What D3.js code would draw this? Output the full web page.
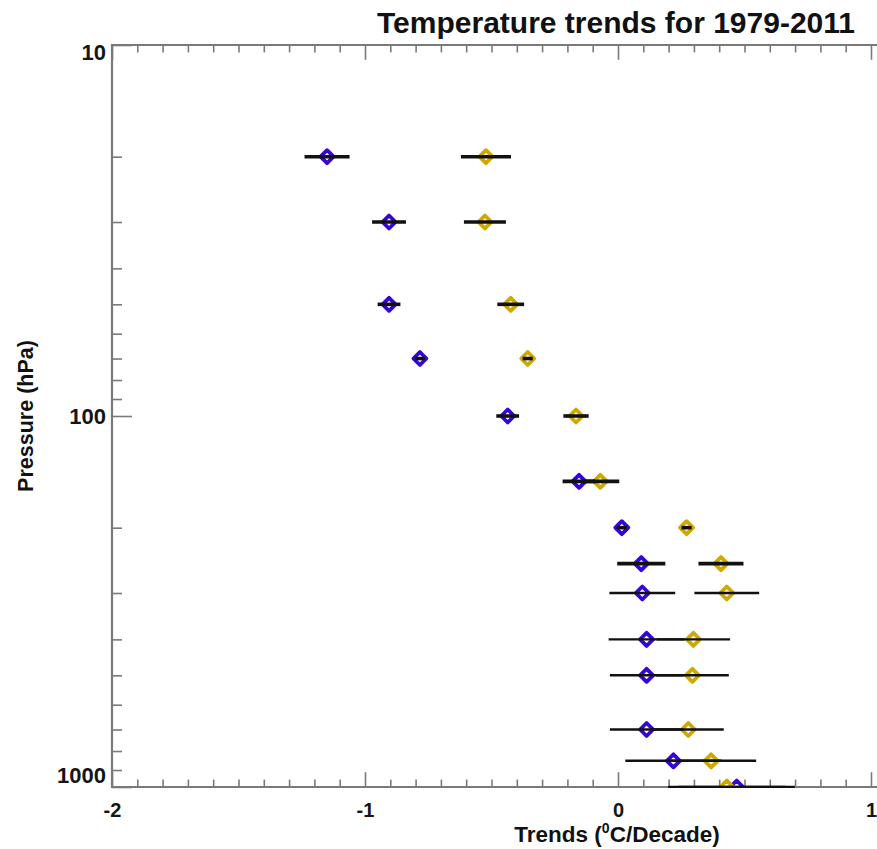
<!DOCTYPE html>
<html>
<head>
<meta charset="utf-8">
<script src="https://cdn.jsdelivr.net/npm/d3@7"></script>
<style>
  html, body { margin: 0; padding: 0; background: #fff; }
  svg { display: block; font-family: "Liberation Sans", Arial, sans-serif; }
</style>
</head>
<body>
<svg id="chart" width="877" height="849"></svg>
<script>
// ---- data ----
const pressureLevels = [20, 30, 50, 70, 100, 150, 200, 250, 300, 400, 500, 700, 850, 1000];
const blueTrend = [-1.150, -0.905, -0.905, -0.783, -0.436, -0.154, 0.015, 0.092, 0.096, 0.113, 0.113, 0.113, 0.219, 0.469];
const blueErr   = [0.089, 0.067, 0.045, 0.020, 0.045, 0.065, 0.020, 0.095, 0.130, 0.150, 0.145, 0.145, 0.190, 0.230];
const goldTrend = [-0.522, -0.526, -0.424, -0.357, -0.166, -0.070, 0.271, 0.407, 0.430, 0.298, 0.294, 0.278, 0.368, 0.430];
const goldErr   = [0.099, 0.083, 0.053, 0.020, 0.050, 0.075, 0.020, 0.089, 0.128, 0.145, 0.144, 0.140, 0.178, 0.232];
const xTickValues = [-2, -1, 0, 1, 2];
const yTickValues = [10, 100, 1000];
const titleText = "Temperature trends for 1979-2011";
const xTitle = "Trends (";
const yTitle = "Pressure (hPa)";

(function () {
// ---- layout ----
const pL = 112, pR = 1124, pT = 45, pB = 787;
const svg = d3.select("#chart");

const x = d3.scaleLinear().domain([-2, 2]).range([pL, pR]);
const y = d3.scaleLog().domain([10, 1000]).range([pT, pB]);

const axisColor = "#7a7a7a";
const majX = 14.8, minX = 7.4, majY = 20, minY = 10;

svg.append("defs").append("clipPath").attr("id", "plotclip")
  .append("rect").attr("x", pL).attr("y", pT).attr("width", pR - pL).attr("height", pB - pT + 1);

// ---- axes ----
const xMinor = d3.range(-20, 21).map(v => v / 10).filter(v => !xTickValues.includes(v));
const yMinor = [20, 30, 40, 50, 60, 70, 80, 90, 200, 300, 400, 500, 600, 700, 800, 900];

function styleAxis(g) {
  g.select(".domain").remove();
  g.selectAll(".tick line").attr("stroke", axisColor).attr("stroke-width", 1.6);
}

// bottom
svg.append("g").attr("transform", `translate(0,${pB})`)
  .call(d3.axisBottom(x).tickValues(xMinor).tickSize(-minX).tickFormat(""))
  .call(styleAxis);
const xb = svg.append("g").attr("transform", `translate(0,${pB})`)
  .call(d3.axisBottom(x).tickValues(xTickValues).tickSize(-majX).tickFormat(d3.format("d")).tickPadding(16))
  .call(styleAxis);
xb.selectAll(".tick text")
  .attr("font-size", 20).attr("font-weight", "bold").attr("fill", "#151515")
  .attr("font-family", "Liberation Sans, Arial, sans-serif")
  .text(d => d < 0 ? "-" + Math.abs(d) : d);

// top
svg.append("g").attr("transform", `translate(0,${pT})`)
  .call(d3.axisTop(x).tickValues(xMinor).tickSize(-minX).tickFormat(""))
  .call(styleAxis);
svg.append("g").attr("transform", `translate(0,${pT})`)
  .call(d3.axisTop(x).tickValues(xTickValues).tickSize(-majX).tickFormat(""))
  .call(styleAxis);

// left
svg.append("g").attr("transform", `translate(${pL},0)`)
  .call(d3.axisLeft(y).tickValues(yMinor).tickSize(-minY).tickFormat(""))
  .call(styleAxis);
const yl = svg.append("g").attr("transform", `translate(${pL},0)`)
  .call(d3.axisLeft(y).tickValues(yTickValues).tickSize(-majY).tickFormat(d3.format("d")).tickPadding(6))
  .call(styleAxis);
yl.selectAll(".tick text")
  .attr("font-size", 22).attr("font-weight", "bold").attr("fill", "#151515")
  .attr("font-family", "Liberation Sans, Arial, sans-serif")
  .attr("dy", d => d === 10 ? "0.68em" : (d === 1000 ? "-0.22em" : "0.35em"));

// axis lines
svg.append("line").attr("x1", pL).attr("x2", pR).attr("y1", pB).attr("y2", pB)
  .attr("stroke", axisColor).attr("stroke-width", 2.2);
svg.append("line").attr("x1", pL).attr("x2", pR).attr("y1", pT).attr("y2", pT)
  .attr("stroke", axisColor).attr("stroke-width", 2.2);
svg.append("line").attr("x1", pL).attr("x2", pL).attr("y1", pT - 1).attr("y2", pB + 1)
  .attr("stroke", axisColor).attr("stroke-width", 2.2);

// ---- markers and error bars ----
const series = [
  { name: "blue", trend: blueTrend, err: blueErr, color: "#3504d8" },
  { name: "gold", trend: goldTrend, err: goldErr, color: "#cfa800" }
];
const rows = [];
series.forEach(s => pressureLevels.forEach((p, i) => rows.push({ p, v: s.trend[i], e: s.err[i], color: s.color, name: s.name })));

const plot = svg.append("g").attr("clip-path", "url(#plotclip)");
const r = 6.5;
const diamond = d => {
  const cx = x(d.v), cy = y(d.p);
  return `M${cx},${cy - r}L${cx + r},${cy}L${cx},${cy + r}L${cx - r},${cy}Z`;
};
plot.selectAll("path.marker").data(rows).join("path")
  .attr("class", "marker")
  .attr("d", diamond)
  .attr("fill", "none")
  .attr("stroke", d => d.color)
  .attr("stroke-width", 3.8)
  .attr("stroke-linejoin", "round");

plot.selectAll("line.err").data(rows).join("line")
  .attr("class", "err")
  .attr("x1", d => x(d.v - d.e)).attr("x2", d => x(d.v + d.e))
  .attr("y1", d => y(d.p)).attr("y2", d => y(d.p))
  .attr("stroke", "#111")
  .attr("stroke-width", d => d.p <= 250 ? 3.6 : 2.4);

// ---- titles ----
svg.append("text").attr("x", 616).attr("y", 33).attr("text-anchor", "middle")
  .attr("font-size", 30).attr("font-weight", "bold").attr("fill", "#111")
  .text(titleText);

const xt = svg.append("text").attr("x", 617).attr("y", 842).attr("text-anchor", "middle")
  .attr("font-size", 22.5).attr("font-weight", "bold").attr("fill", "#111");
xt.append("tspan").text(xTitle);
xt.append("tspan").attr("font-size", 14).attr("dy", -9).text("0");
xt.append("tspan").attr("dy", 9).text("C/Decade)");

svg.append("text").attr("transform", `translate(33,${(pT + pB) / 2}) rotate(-90)`)
  .attr("text-anchor", "middle")
  .attr("font-size", 21.5).attr("font-weight", "bold").attr("fill", "#111")
  .text(yTitle);
})();
</script>
</body>
</html>
